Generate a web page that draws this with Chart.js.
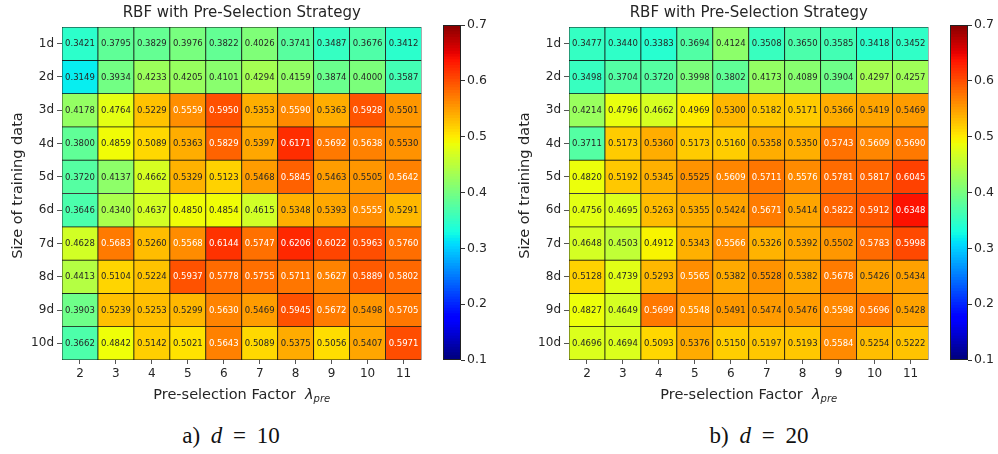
<!DOCTYPE html>
<html>
<head>
<meta charset="utf-8">
<script src="https://cdn.jsdelivr.net/npm/chart.js@4/dist/chart.umd.min.js"></script>
<style>
  html, body { margin: 0; padding: 0; background: #fff; overflow: hidden; }
  body { width: 998px; height: 454px; position: relative; }
  canvas { position: absolute; top: 0; }
  .cap { position: absolute; top: 424px; font-family: "Liberation Serif", serif; font-size: 23px;
         line-height: 1; color: #111; transform: translateX(-50%); white-space: nowrap; word-spacing: 5px; }
  .cap i { font-style: italic; }
</style>
</head>
<body>
<canvas id="heatA" width="440" height="420" style="left:0px"></canvas>
<canvas id="barA" width="70" height="420" style="left:430px"></canvas>
<canvas id="heatB" width="440" height="420" style="left:507px"></canvas>
<canvas id="barB" width="70" height="420" style="left:937px"></canvas>
<div class="cap" style="left:231px">a) <i>d</i> = 10</div>
<div class="cap" style="left:759px">b) <i>d</i> = 20</div>
<script>
// pre-selection factors (columns) and training data sizes (rows)
const factors = ['2', '3', '4', '5', '6', '7', '8', '9', '10', '11'];
const sizes = ['1d', '2d', '3d', '4d', '5d', '6d', '7d', '8d', '9d', '10d'];

// d = 10
const d10 = [
  [0.3421, 0.3795, 0.3829, 0.3976, 0.3822, 0.4026, 0.3741, 0.3487, 0.3676, 0.3412],
  [0.3149, 0.3934, 0.4233, 0.4205, 0.4101, 0.4294, 0.4159, 0.3874, 0.4000, 0.3587],
  [0.4178, 0.4764, 0.5229, 0.5559, 0.5950, 0.5353, 0.5590, 0.5363, 0.5928, 0.5501],
  [0.3800, 0.4859, 0.5089, 0.5363, 0.5829, 0.5397, 0.6171, 0.5692, 0.5638, 0.5530],
  [0.3720, 0.4137, 0.4662, 0.5329, 0.5123, 0.5468, 0.5845, 0.5463, 0.5505, 0.5642],
  [0.3646, 0.4340, 0.4637, 0.4850, 0.4854, 0.4615, 0.5348, 0.5393, 0.5555, 0.5291],
  [0.4628, 0.5683, 0.5260, 0.5568, 0.6144, 0.5747, 0.6206, 0.6022, 0.5963, 0.5760],
  [0.4413, 0.5104, 0.5224, 0.5937, 0.5778, 0.5755, 0.5711, 0.5627, 0.5889, 0.5802],
  [0.3903, 0.5239, 0.5253, 0.5299, 0.5630, 0.5469, 0.5945, 0.5672, 0.5498, 0.5705],
  [0.3662, 0.4842, 0.5142, 0.5021, 0.5643, 0.5089, 0.5375, 0.5056, 0.5407, 0.5971]
];

// d = 20
const d20 = [
  [0.3477, 0.3440, 0.3383, 0.3694, 0.4124, 0.3508, 0.3650, 0.3585, 0.3418, 0.3452],
  [0.3498, 0.3704, 0.3720, 0.3998, 0.3802, 0.4173, 0.4089, 0.3904, 0.4297, 0.4257],
  [0.4214, 0.4796, 0.4662, 0.4969, 0.5300, 0.5182, 0.5171, 0.5366, 0.5419, 0.5469],
  [0.3711, 0.5173, 0.5360, 0.5173, 0.5160, 0.5358, 0.5350, 0.5743, 0.5609, 0.5690],
  [0.4820, 0.5192, 0.5345, 0.5525, 0.5609, 0.5711, 0.5576, 0.5781, 0.5817, 0.6045],
  [0.4756, 0.4695, 0.5263, 0.5355, 0.5424, 0.5671, 0.5414, 0.5822, 0.5912, 0.6348],
  [0.4648, 0.4503, 0.4912, 0.5343, 0.5566, 0.5326, 0.5392, 0.5502, 0.5783, 0.5998],
  [0.5128, 0.4739, 0.5293, 0.5565, 0.5382, 0.5528, 0.5382, 0.5678, 0.5426, 0.5434],
  [0.4827, 0.4649, 0.5699, 0.5548, 0.5491, 0.5474, 0.5476, 0.5598, 0.5696, 0.5428],
  [0.4696, 0.4694, 0.5093, 0.5376, 0.5150, 0.5197, 0.5193, 0.5584, 0.5254, 0.5222]
];

const cbTicks = [0.1, 0.2, 0.3, 0.4, 0.5, 0.6, 0.7];
const vmin = 0.1, vmax = 0.7;
const titleText = 'RBF with Pre-Selection Strategy';
const FONT = '"DejaVu Sans", sans-serif';
const INK = '#262626';

// matplotlib jet
function seg(t, pts) {
  for (let i = 1; i < pts.length; i++) {
    if (t <= pts[i][0]) {
      const a = pts[i - 1], b = pts[i];
      return a[1] + (b[1] - a[1]) * (t - a[0]) / (b[0] - a[0]);
    }
  }
  return pts[pts.length - 1][1];
}
function jet(v) {
  let t = (v - vmin) / (vmax - vmin);
  t = Math.max(0, Math.min(1, t));
  const r = seg(t, [[0, 0], [0.35, 0], [0.66, 1], [0.89, 1], [1, 0.5]]);
  const g = seg(t, [[0, 0], [0.125, 0], [0.375, 1], [0.64, 1], [0.91, 0], [1, 0]]);
  const b = seg(t, [[0, 0.5], [0.11, 1], [0.34, 1], [0.65, 0], [1, 0]]);
  return 'rgb(' + Math.round(r * 255) + ',' + Math.round(g * 255) + ',' + Math.round(b * 255) + ')';
}

function heatmap(id, values) {
  const datasets = values.map((row, r) => ({
    data: row.map(() => [r + 0.5, r + 1.5]),
    backgroundColor: row.map(jet),
    borderColor: '#111',
    borderWidth: 0.75,
    borderSkipped: false,
    grouped: false,
    barPercentage: 1,
    categoryPercentage: 1
  }));

  const deco = {
    id: 'deco' + id,
    afterDatasetsDraw(chart) {
      const ctx = chart.ctx;
      ctx.save();
      ctx.font = '8.5px ' + FONT;
      ctx.textAlign = 'center';
      ctx.textBaseline = 'middle';
      values.forEach((row, r) => {
        chart.getDatasetMeta(r).data.forEach((bar, c) => {
          const v = row[c];
          ctx.fillStyle = v > 0.554 ? '#ffffff' : INK;
          ctx.fillText(v.toFixed(4), bar.x, (bar.y + bar.base) / 2 + 0.5);
        });
      });
      ctx.restore();
    },
    afterDraw(chart) {
      const ctx = chart.ctx, a = chart.chartArea;
      const cx = (a.left + a.right) / 2;
      ctx.save();
      ctx.fillStyle = INK;
      ctx.textBaseline = 'middle';
      ctx.textAlign = 'center';
      ctx.font = '15px ' + FONT;
      ctx.fillText(titleText, cx, 13);

      // y axis title
      ctx.save();
      ctx.translate(18, (a.top + a.bottom) / 2 - 8);
      ctx.rotate(-Math.PI / 2);
      ctx.font = '14.5px ' + FONT;
      ctx.fillText('Size of training data', 0, 0);
      ctx.restore();

      // x axis title with subscript
      const main = 'Pre-selection Factor  ';
      ctx.font = '14.5px ' + FONT;
      const w1 = ctx.measureText(main).width;
      ctx.font = 'italic 14.5px ' + FONT;
      const w2 = ctx.measureText('\u03bb').width;
      ctx.font = 'italic 10px ' + FONT;
      const w3 = ctx.measureText('pre').width;
      let x = cx - (w1 + w2 + w3) / 2;
      const y = 395;
      ctx.textAlign = 'left';
      ctx.font = '14.5px ' + FONT;
      ctx.fillText(main, x, y);
      x += w1;
      ctx.font = 'italic 14.5px ' + FONT;
      ctx.fillText('\u03bb', x, y);
      x += w2;
      ctx.font = 'italic 10px ' + FONT;
      ctx.fillText('pre', x, y + 4);
      ctx.restore();
    }
  };

  new Chart(document.getElementById(id), {
    type: 'bar',
    data: { labels: factors, datasets: datasets },
    options: {
      responsive: false,
      animation: false,
      layout: { padding: { top: 27, right: 18.5, left: 0, bottom: 0 } },
      plugins: { legend: { display: false }, tooltip: { enabled: false } },
      scales: {
        x: {
          type: 'category',
          offset: true,
          border: { display: false },
          grid: { drawOnChartArea: false, drawTicks: true, tickLength: 4, color: '#555', offset: false },
          ticks: { color: INK, font: { family: FONT, size: 12 }, padding: 3, maxRotation: 0 },
          afterFit(s) { s.height = 60; }
        },
        y: {
          type: 'linear',
          reverse: true,
          min: 0.5,
          max: 10.5,
          border: { display: false },
          grid: { drawOnChartArea: false, drawTicks: true, tickLength: 5, color: '#555' },
          ticks: {
            color: INK, font: { family: FONT, size: 12 }, padding: 3,
            callback: (v) => sizes[Math.round(v) - 1]
          },
          afterBuildTicks(s) { s.ticks = sizes.map((_, i) => ({ value: i + 1 })); },
          afterFit(s) { s.width = 62; }
        }
      }
    },
    plugins: [deco]
  });
}

function colorbar(id) {
  // thin slices stacked from vmin to vmax
  const n = 120, step = (vmax - vmin) / n;
  const datasets = [];
  for (let i = 0; i < n; i++) {
    const lo = vmin + i * step;
    datasets.push({
      data: [[lo, Math.min(vmax, lo + step * 1.6)]],
      backgroundColor: jet(lo + step / 2),
      borderWidth: 0,
      grouped: false,
      barPercentage: 1,
      categoryPercentage: 1
    });
  }
  const frame = {
    id: 'frame' + id,
    afterDatasetsDraw(chart) {
      const a = chart.chartArea, ctx = chart.ctx;
      ctx.save();
      ctx.strokeStyle = '#222';
      ctx.lineWidth = 1;
      ctx.strokeRect(Math.round(a.left) + 0.5, Math.round(a.top) + 0.5,
        Math.round(a.right - a.left) - 1, Math.round(a.bottom - a.top) - 1);
      ctx.restore();
    }
  };
  new Chart(document.getElementById(id), {
    type: 'bar',
    data: { labels: [''], datasets: datasets },
    options: {
      responsive: false,
      animation: false,
      layout: { padding: { top: 25, left: 13, right: 0, bottom: 60 } },
      plugins: { legend: { display: false }, tooltip: { enabled: false } },
      scales: {
        x: { display: false },
        y: {
          type: 'linear',
          position: 'right',
          min: vmin,
          max: vmax,
          border: { display: false },
          grid: { drawOnChartArea: false, drawTicks: true, tickLength: 4, color: '#333' },
          ticks: {
            color: INK, font: { family: FONT, size: 12.5 }, padding: 2,
            callback: (v) => v.toFixed(1)
          },
          afterBuildTicks(s) { s.ticks = cbTicks.map((v) => ({ value: v })); },
          afterFit(s) { s.width = 39; }
        }
      }
    },
    plugins: [frame]
  });
}

heatmap('heatA', d10);
colorbar('barA');
heatmap('heatB', d20);
colorbar('barB');
</script>
</body>
</html>
